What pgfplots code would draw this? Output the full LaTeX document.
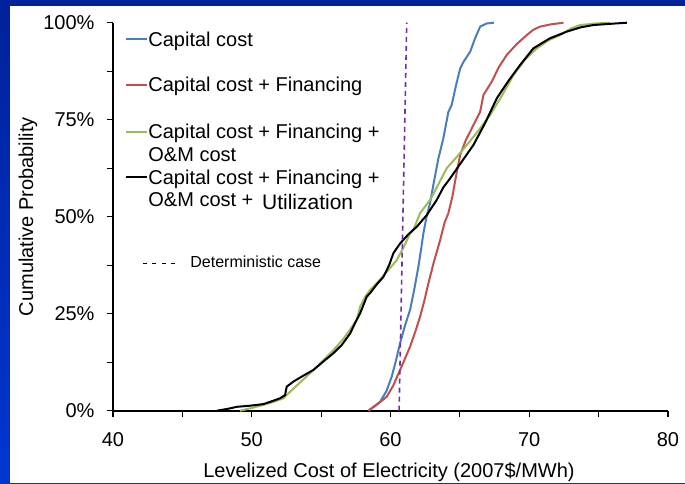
\documentclass[border=0pt]{standalone}
\usepackage{fontspec}
\setmainfont{Liberation Sans}
\usepackage{pgfplots}
\pgfplotsset{compat=1.18}

\definecolor{capblue}{HTML}{4A7EBB}
\definecolor{capred}{HTML}{C0504D}
\definecolor{capgreen}{HTML}{9BBB59}
\definecolor{detpurple}{HTML}{7030A0}
\definecolor{slidetop}{HTML}{00229A}
\definecolor{slidebot}{HTML}{0036D2}

\newcommand{\lgfont}{\fontsize{10}{12}\selectfont}

\begin{document}
\begin{tikzpicture}
% slide frame (1px of the reference = 0.5pt, axis origin at px (113,410.7))
\shade[top color=slidetop, bottom color=slidebot] (-56.5pt,-36.15pt) rectangle (286pt,205.35pt);
\fill[white] (-51.5pt,-36.15pt) rectangle (286pt,202.35pt);
\useasboundingbox (-56.5pt,-36.15pt) rectangle (286pt,205.35pt);

\begin{axis}[
  at={(0,0)}, anchor=south west,
  scale only axis, width=277.5pt, height=194pt,
  xmin=40, xmax=80, ymin=0, ymax=100,
  axis lines=left,
  axis line style={black, line width=1pt, -},
  xtick={40,50,60,70,80}, xticklabels={40,50,60,70,80},
  minor xtick={45,55,65,75},
  ytick={0,25,50,75,100}, yticklabels={0\%,25\%,50\%,75\%,100\%},
  minor ytick={12.5,37.5,62.5,87.5},
  tick align=outside, major tick length=3pt, minor tick length=3pt,
  tick style={black, line width=0.6pt},
  tick label style={font=\lgfont},
  xticklabel style={anchor=base, yshift=-15pt},
  yticklabel style={xshift=-2.7pt},
  xlabel={Levelized Cost of Electricity (2007\$/MWh)},
  ylabel={Cumulative Probability},
  label style={font=\lgfont},
  every axis x label/.style={at={(axis description cs:0.4973,-0.1709)}, anchor=base},
  every axis y label/.style={at={(axis description cs:-0.1441,0.5)}, rotate=90, anchor=base},
  clip=false,
  every axis plot/.append style={line width=1pt},
]
% Capital cost
\addplot[capblue] coordinates {
(58.41,0) (58.7,0.8) (59.25,2.3) (59.7,5) (60.09,8.8) (60.4,13) (60.69,17.4)
(61.05,22) (61.41,26) (61.7,31) (62.01,37.1) (62.2,41.5) (62.37,45.7) (62.6,50)
(62.85,53.5) (63.09,58.2) (63.45,65) (63.81,70.2) (64.17,77) (64.41,78.8)
(64.7,83.5) (65.02,88.2) (65.26,89.9) (65.74,92.5) (66.1,96) (66.46,99)
(66.94,99.8) (67.45,100)};
% + Financing
\addplot[capred] coordinates {
(58.41,0) (59.0,1.5) (59.73,3.6) (60.2,6.5) (60.69,10.5) (61.05,13.5) (61.41,16.5)
(61.8,20.5) (62.13,24.2) (62.45,28.5) (62.73,32.8) (63.1,38) (63.58,44) (63.9,48.5)
(64.17,50.9) (64.45,55) (64.7,60) (65.02,65.9) (65.4,69.5) (65.74,71.9) (66.1,74.5)
(66.46,77) (66.7,81.4) (67.30,84.8) (67.8,88.5) (68.38,91.7) (69.1,94.5)
(69.82,96.8) (70.3,98.2) (70.79,99) (71.6,99.6) (72.47,100)};
% + O&M cost
\addplot[capgreen] coordinates {
(49.16,0) (50.0,0.7) (50.84,1.5) (51.6,2.3) (52.28,3.2) (52.8,5) (53.4,7) (54.0,9)
(54.69,11.3) (55.3,13.5) (55.88,15.6) (56.6,18.5) (57.2,21.5) (57.57,23.4)
(57.81,26.8) (58.2,29.5) (58.53,31.1) (58.77,32) (59.3,34) (59.9,36.5) (60.45,38.8)
(61.0,42.5) (61.41,45.7) (61.65,46.6) (62.13,50.9) (62.85,54.3) (63.4,58)
(64.05,62.5) (64.8,65.5) (65.5,68.5) (66.3,72) (67.18,76.2) (68.0,81) (68.86,86.5)
(69.7,90.5) (70.55,93.4) (71.4,95.5) (72.23,96.8) (73.0,98.5) (73.67,99.4)
(74.8,99.8) (75.83,100)};
% + Utilization
\addplot[black] coordinates {
(47.48,0) (48.3,0.5) (48.92,1.0) (49.9,1.3) (50.84,1.7) (51.5,2.5) (52.04,3.2)
(52.4,4) (52.52,6.2) (53.0,7.5) (53.7,9) (54.44,10.5) (55.2,12.8) (55.88,14.8)
(56.5,17) (57.09,19.9) (57.5,23) (57.81,25.1) (58.29,29.4) (58.53,30.3) (59.0,32.5)
(59.49,34.5) (59.9,37.5) (60.21,40.6) (60.69,43.1) (61.3,45.5) (61.89,47.4)
(62.61,50.4) (63.33,54.3) (63.8,57.5) (64.30,59.9) (65.1,64) (65.98,68.5)
(66.8,74) (67.66,80.5) (68.5,85) (69.34,89.1) (70.3,93.4) (71.5,96) (72.71,97.7)
(73.7,98.8) (74.63,99.4) (75.8,99.7) (77.04,100)};
% deterministic case
\addplot[detpurple, line width=0.8pt, dash pattern=on 2.5pt off 2pt] coordinates {(60.62,0) (61.17,100)};
\end{axis}

% legend
\draw[capblue, line width=1pt] (6.5pt,185.85pt) -- (16.85pt,185.85pt);
\node[anchor=base west, inner sep=0pt, font=\lgfont] at (17.5pt,182pt) {Capital cost};
\draw[capred, line width=1pt] (6.5pt,162.85pt) -- (16.85pt,162.85pt);
\node[anchor=base west, inner sep=0pt, font=\lgfont] at (17.5pt,159.5pt) {Capital cost + Financing};
\draw[capgreen, line width=1pt] (6.5pt,139.5pt) -- (16.85pt,139.5pt);
\node[anchor=base west, inner sep=0pt, font=\lgfont] at (17.5pt,136.2pt) {Capital cost + Financing +};
\node[anchor=base west, inner sep=0pt, font=\lgfont] at (17.5pt,124.85pt) {O\&M cost};
\draw[black, line width=1pt] (6.5pt,117pt) -- (16.85pt,117pt);
\node[anchor=base west, inner sep=0pt, font=\lgfont] at (17.5pt,113.2pt) {Capital cost + Financing +};
\node[anchor=base west, inner sep=0pt, font=\lgfont] at (17.5pt,102pt) {O\&M cost +};
\node[anchor=base west, inner sep=0pt, font=\fontsize{10.5}{12}\selectfont] at (74.35pt,100.7pt) {Utilization};
\draw[black, line width=0.6pt, dash pattern=on 2pt off 2.7pt] (15pt,73.7pt) -- (32pt,73.7pt);
\node[anchor=base west, inner sep=0pt, font=\fontsize{8}{10}\selectfont] at (38.5pt,71.5pt) {Deterministic case};
\end{tikzpicture}
\end{document}
